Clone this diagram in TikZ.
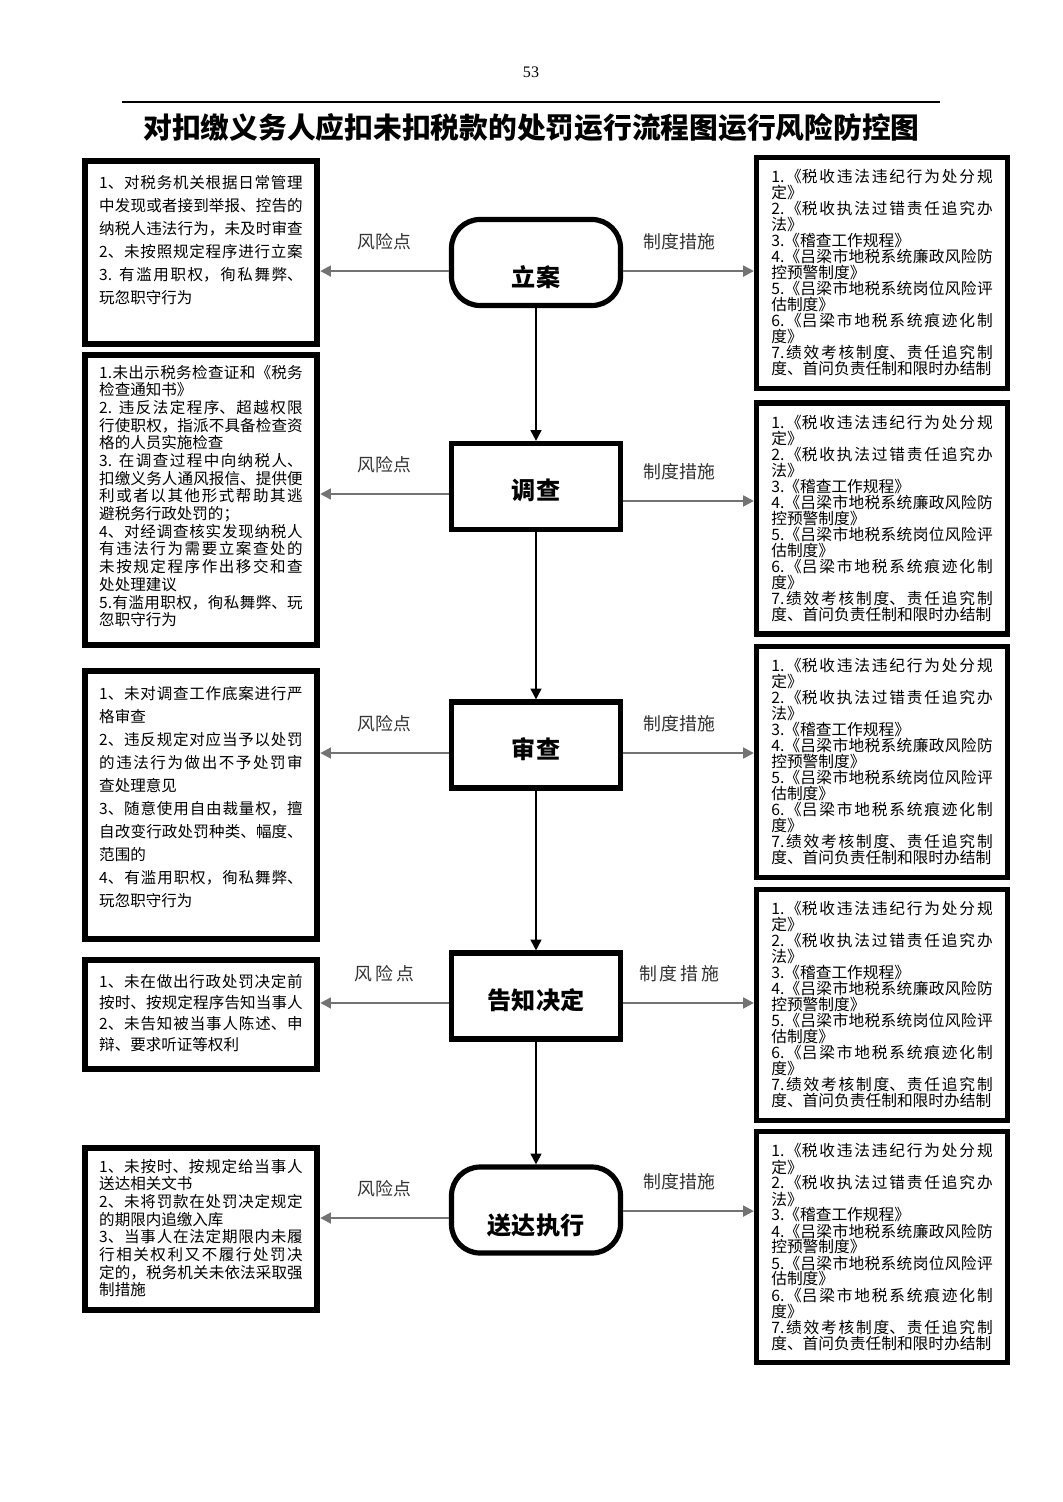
\documentclass[tikz,border=0pt]{standalone}
\usepackage{fontspec}
\setmainfont{Noto Sans CJK SC}
\newfontfamily\pagenofont{Liberation Serif}
\usetikzlibrary{positioning}
\usetikzlibrary{arrows.meta}
\XeTeXlinebreaklocale "zh"
\XeTeXlinebreakskip=0pt plus 2pt minus 0.4pt

\newcommand{\pu}{0.56pt}
\newcommand{\measuretext}{1.《税收违法违纪行为处分规\linebreak 定》\newline 2.《税收执法过错责任追究办\linebreak 法》\newline 3.《稽查工作规程》\newline 4.《吕梁市地税系统廉政风险防\linebreak 控预警制度》\newline 5.《吕梁市地税系统岗位风险评\linebreak 估制度》\newline 6.《吕梁市地税系统痕迹化制\linebreak 度》\newline 7.绩效考核制度、责任追究制\linebreak 度、首问负责任制和限时办结制}

\begin{document}
\begin{tikzpicture}[x=0.56pt, y=-0.56pt,
  riskbox/.style={draw, line width=3.6pt, inner sep=0pt, minimum width=232*\pu},
  risktext/.style={inner sep=0pt, text width=114pt, align=justify},
  measurebox/.style={draw, line width=2.9pt, inner sep=0pt, minimum width=251*\pu, minimum height=231*\pu, text width=124pt, align=justify, font=\fontsize{8.8}{8.96}\selectfont\lineskiplimit-5pt},
  stepbox/.style={draw, line width=2.9pt, inner sep=0pt, minimum width=169*\pu, minimum height=86*\pu, font=\fontsize{13.5}{15}\selectfont\bfseries, text height=16pt, text depth=1.4pt},
  roundstep/.style={stepbox, rounded corners=16pt, text height=28pt, text depth=1pt},
  flow/.style={black, line width=1.1pt, -{Triangle[length=6pt,width=6pt]}},
  riskarrow/.style={black!55, line width=1.3pt, -{Triangle[length=6pt,width=6pt]}},
  tag/.style={inner sep=0pt, text=black!80, font=\fontsize{10}{12}\selectfont}
]

\fill[white] (0,0) rectangle (1063,1502);
\path[use as bounding box] (0,0) rectangle (1063,1502);

% heading
{
\node[font=\pagenofont\fontsize{9}{10}\selectfont] (pageno) at (531,72) {53};
\draw[line width=1pt] (122,102) -- (940,102);
\node[font=\fontsize{16.1}{18}\selectfont\bfseries] (title) at (531.5,128) {对扣缴义务人应扣未扣税款的处罚运行流程图运行风险防控图};
}

% steps
{
\node[roundstep] (s1) at (536,262.5) {立案};
\node[stepbox] (s2) at (536,486.5) {调查};
\node[stepbox] (s3) at (536,745) {审查};
\node[stepbox] (s4) at (536,996) {告知决定};
\node[roundstep] (s5) at (536,1210) {送达执行};

\draw[flow] (s1) -- (s2);
\draw[flow] (s2) -- (s3);
\draw[flow] (s3) -- (s4);
\draw[flow] (s4) -- (s5);
}

% risk boxes
{
\node[riskbox, minimum height=183*\pu] (risk1) at (201,252.5) {};
\node[riskbox, minimum height=290*\pu] (risk2) at (201,500) {};
\node[riskbox, minimum height=268*\pu] (risk3) at (201,805) {};
\node[riskbox, minimum height=109*\pu] (risk4) at (201,1014.5) {};
\node[riskbox, minimum height=162*\pu] (risk5) at (201,1229) {};

\node[risktext, font=\fontsize{8.7}{12.9}\selectfont\lineskiplimit-5pt] (rt1) at (201,240) {1、对税务机关根据日常管理\linebreak 中发现或者接到举报、控告的\linebreak 纳税人违法行为，未及时审查\linebreak 2、未按照规定程序进行立案\linebreak 3. 有滥用职权，徇私舞弊、\linebreak 玩忽职守行为};

\node[risktext, font=\fontsize{8.7}{9.9}\selectfont\lineskiplimit-5pt] (rt2) at (201,496) {1.未出示税务检查证和《税务\linebreak 检查通知书》\newline 2. 违反法定程序、超越权限\linebreak 行使职权，指派不具备检查资\linebreak 格的人员实施检查\newline 3. 在调查过程中向纳税人、\linebreak 扣缴义务人通风报信、提供便\linebreak 利或者以其他形式帮助其逃\linebreak 避税务行政处罚的；\newline 4、对经调查核实发现纳税人\linebreak 有违法行为需要立案查处的\linebreak 未按规定程序作出移交和查\linebreak 处处理建议\newline 5.有滥用职权，徇私舞弊、玩\linebreak 忽职守行为};

\node[risktext, font=\fontsize{8.7}{12.9}\selectfont\lineskiplimit-5pt] (rt3) at (201,797) {1、未对调查工作底案进行严\linebreak 格审查\newline 2、违反规定对应当予以处罚\linebreak 的违法行为做出不予处罚审\linebreak 查处理意见\newline 3、随意使用自由裁量权，擅\linebreak 自改变行政处罚种类、幅度、\linebreak 范围的\newline 4、有滥用职权，徇私舞弊、\linebreak 玩忽职守行为};

\node[risktext, font=\fontsize{8.7}{11.8}\selectfont\lineskiplimit-5pt] (rt4) at (201,1013) {1、未在做出行政处罚决定前\linebreak 按时、按规定程序告知当事人\linebreak 2、未告知被当事人陈述、申\linebreak 辩、要求听证等权利};

\node[risktext, font=\fontsize{8.7}{9.9}\selectfont\lineskiplimit-5pt] (rt5) at (201,1228) {1、未按时、按规定给当事人\linebreak 送达相关文书\newline 2、未将罚款在处罚决定规定\linebreak 的期限内追缴入库\newline 3、当事人在法定期限内未履\linebreak 行相关权利又不履行处罚决\linebreak 定的，税务机关未依法采取强\linebreak 制措施};
}

% measure boxes
{
\node[measurebox] (rule1) at (882,273) {\measuretext};
\node[measurebox] (rule2) at (882,518.5) {\measuretext};
\node[measurebox] (rule3) at (882,762) {\measuretext};
\node[measurebox] (rule4) at (882,1005) {\measuretext};
\node[measurebox] (rule5) at (882,1247) {\measuretext};
}

% arrows and labellings
{
\draw[riskarrow] ([yshift=-4.8pt]s1.west) -- ([yshift=-4.8pt]s1.west -| risk1.east) node[tag, midway, above=11pt] (rp1) {风险点};
\draw[riskarrow] ([yshift=-4.8pt]s1.east) -- ([yshift=-4.8pt]s1.east -| rule1.west) node[tag, pos=0.43, above=11pt] (mp1) {制度措施};

\draw[riskarrow] ([yshift=-4.2pt]s2.west) -- ([yshift=-4.2pt]s2.west -| risk2.east) node[tag, midway, above=11pt] (rp2) {风险点};
\draw[riskarrow] ([yshift=-8.1pt]s2.east) -- ([yshift=-8.1pt]s2.east -| rule2.west) node[tag, pos=0.43, above=11pt] (mp2) {制度措施};

\draw[riskarrow] ([yshift=-4.5pt]s3.west) -- ([yshift=-4.5pt]s3.west -| risk3.east) node[tag, midway, above=11pt] (rp3) {风险点};
\draw[riskarrow] ([yshift=-4.5pt]s3.east) -- ([yshift=-4.5pt]s3.east -| rule3.west) node[tag, pos=0.43, above=11pt] (mp3) {制度措施};

\draw[riskarrow] ([yshift=-3.9pt]s4.west) -- ([yshift=-3.9pt]s4.west -| risk4.east) node[tag, midway, above=11pt] (rp4) {风\,险\,点};
\draw[riskarrow] ([yshift=-3.9pt]s4.east) -- ([yshift=-3.9pt]s4.east -| rule4.west) node[tag, pos=0.43, above=11pt] (mp4) {制\,度\,措\,施};

\draw[riskarrow] ([yshift=-4.5pt]s5.west) -- ([yshift=-4.5pt]s5.west -| risk5.east) node[tag, midway, above=11pt] (rp5) {风险点};
\draw[riskarrow] ([yshift=-0.6pt]s5.east) -- ([yshift=-0.6pt]s5.east -| rule5.west) node[tag, pos=0.43, above=11pt] (mp5) {制度措施};
}

\end{tikzpicture}
\end{document}
